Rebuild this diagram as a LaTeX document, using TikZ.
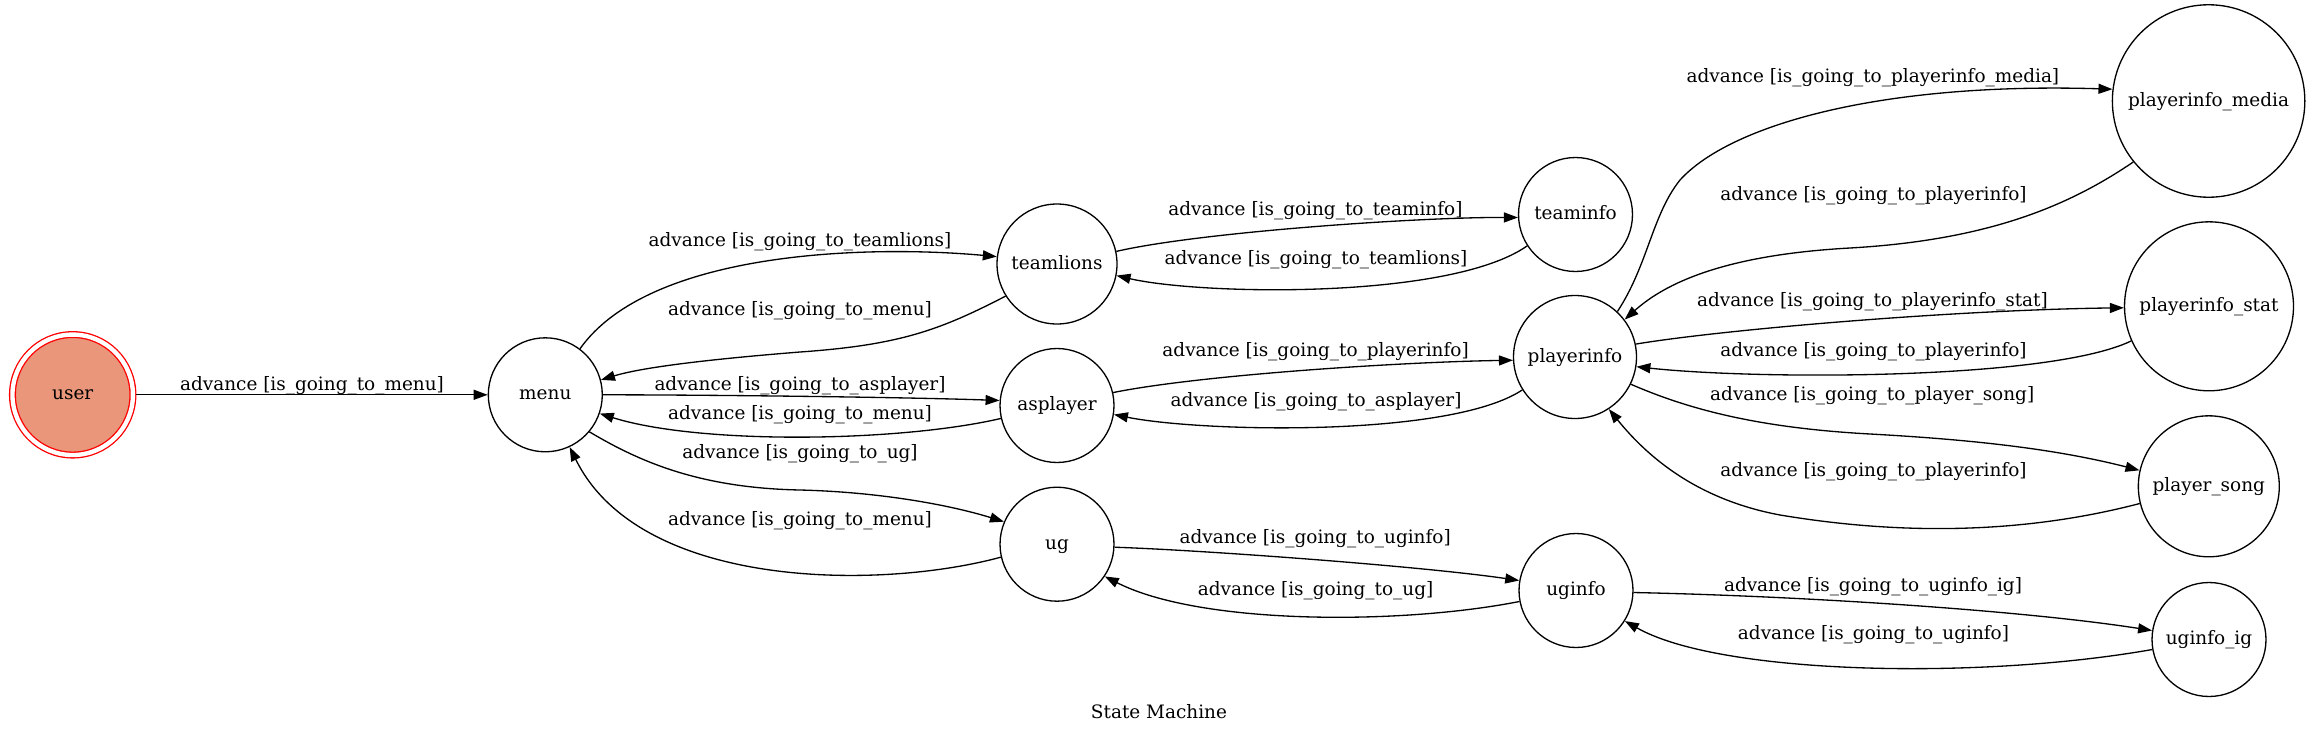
\documentclass[tikz,border=0pt]{standalone}
\usepackage{fontspec}
\setmainfont{DejaVu Serif}
\usetikzlibrary{arrows.meta}
\definecolor{usercol}{RGB}{233,150,122}

\begin{document}
\begin{tikzpicture}[x=0.02cm, y=-0.02cm]

% definitions
\tikzstyle{state} = [circle, draw=black, line width=0.75pt, inner sep=0pt, minimum size=2.28cm, text height=1.1ex, text depth=0pt, font=\fontsize{10.5}{12}\selectfont]

\tikzstyle{userstate} = [state, draw=red, double=white, double distance=0.0875cm, fill=usercol, minimum size=2.41cm, outer sep=0.057cm]

\tikzstyle{edgetext} = [inner sep=0pt, text height=1.1ex, text depth=0pt, font=\fontsize{10.5}{12}\selectfont]

\tikzstyle{arrow} = [-{Triangle[length=0.28cm, width=0.2cm]}, line width=0.75pt]

\useasboundingbox (0,0) rectangle (2319,734);

% the states
\node (user) [userstate] at (72.7,394.8) {user};

\node (menu) [state] at (545.3,394.8) {menu};

\node (teamlions) [state, minimum size=2.4cm] at (1057,264) {teamlions};

\node (asplayer) [state] at (1057,405.5) {asplayer};

\node (ug) [state] at (1057,544.2) {ug};

\node (teaminfo) [state] at (1575.5,214.5) {teaminfo};

\node (playerinfo) [state, minimum size=2.46cm] at (1575,357) {playerinfo};

\node (uginfo) [state] at (1576,590.5) {uginfo};

\node (media) [state, minimum size=3.85cm] at (2208.6,101) {playerinfo\_media};

\node (stat) [state, minimum size=3.38cm] at (2209,306.3) {playerinfo\_stat};

\node (song) [state, minimum size=2.82cm] at (2208.8,486.3) {player\_song};

\node (uginfoig) [state] at (2209,639.5) {uginfo\_ig};

% the transition labels
\node (t1) [edgetext] at (312,385.4) {advance [is\_going\_to\_menu]};
\node (t2) [edgetext] at (800,241) {advance [is\_going\_to\_teamlions]};
\node (t3) [edgetext] at (800,310.5) {advance [is\_going\_to\_menu]};
\node (t4) [edgetext] at (800,385.7) {advance [is\_going\_to\_asplayer]};
\node (t5) [edgetext] at (800,414.3) {advance [is\_going\_to\_menu]};
\node (t6) [edgetext] at (800,453.5) {advance [is\_going\_to\_ug]};
\node (t7) [edgetext] at (800,520.5) {advance [is\_going\_to\_menu]};
\node (t8) [edgetext] at (1315.4,210.2) {advance [is\_going\_to\_teaminfo]};
\node (t9) [edgetext] at (1316,259.2) {advance [is\_going\_to\_teamlions]};
\node (t10) [edgetext] at (1315.6,351) {advance [is\_going\_to\_playerinfo]};
\node (t11) [edgetext] at (1316,401.8) {advance [is\_going\_to\_asplayer]};
\node (t12) [edgetext] at (1315.2,538.2) {advance [is\_going\_to\_uginfo]};
\node (t13) [edgetext] at (1315.6,590.2) {advance [is\_going\_to\_ug]};
\node (t14) [edgetext] at (1872.9,77.7) {advance [is\_going\_to\_playerinfo\_media]};
\node (t15) [edgetext] at (1873.5,195.2) {advance [is\_going\_to\_playerinfo]};
\node (t16) [edgetext] at (1872.4,301.8) {advance [is\_going\_to\_playerinfo\_stat]};
\node (t17) [edgetext] at (1873.5,351.8) {advance [is\_going\_to\_playerinfo]};
\node (t18) [edgetext] at (1872.2,395.2) {advance [is\_going\_to\_player\_song]};
\node (t19) [edgetext] at (1873.5,471.3) {advance [is\_going\_to\_playerinfo]};
\node (t20) [edgetext] at (1873,586) {advance [is\_going\_to\_uginfo\_ig]};
\node (t21) [edgetext] at (1873.5,634.8) {advance [is\_going\_to\_uginfo]};

\node (title) [edgetext] at (1159,713) {State Machine};

% the transitions
\draw [arrow] (user) -- (menu);
\draw [arrow] (menu.53) .. controls (650,250) and (870,245) .. (teamlions.173);
\draw [arrow] (teamlions.212) .. controls (940,330) and (900,345) .. (800,352) .. controls (700,360) and (640,368) .. (menu.15);
\draw [arrow] (menu.0) .. controls (700,394.8) and (900,397) .. (asplayer.175);
\draw [arrow] (asplayer.193) .. controls (900,442) and (700,445) .. (menu.341);
\draw [arrow] (menu.320) .. controls (640,462) and (700,488) .. (800,490) .. controls (880,492) and (950,505) .. (ug.157);
\draw [arrow] (ug.193) .. controls (880,590) and (640,590) .. (menu.295);

\draw [arrow] (teamlions.12) .. controls (1200,232) and (1420,217) .. (teaminfo.183);
\draw [arrow] (teaminfo.213) .. controls (1450,300) and (1200,295) .. (teamlions.349);
\draw [arrow] (asplayer.13) .. controls (1200,375) and (1400,362) .. (playerinfo.183);
\draw [arrow] (playerinfo.212) .. controls (1450,438) and (1200,432) .. (asplayer.351);
\draw [arrow] (ug.357) .. controls (1200,550) and (1420,566) .. (uginfo.170);
\draw [arrow] (uginfo.191) .. controls (1400,625) and (1200,625) .. (ug.326);

\draw [arrow] (playerinfo.47) .. controls (1648,265) and (1652,215) .. (1680,180) .. controls (1730,125) and (1880,82) .. (media.173);
\draw [arrow] (media.219) .. controls (2070,205) and (1990,240) .. (1850,248) .. controls (1760,253) and (1680,270) .. (playerinfo.37);
\draw [arrow] (playerinfo.12) .. controls (1720,330) and (1950,310) .. (stat.181);
\draw [arrow] (stat.204) .. controls (2050,380) and (1760,380) .. (playerinfo.351);
\draw [arrow] (playerinfo.334) .. controls (1690,410) and (1760,428) .. (1870,434) .. controls (1980,440) and (2060,450) .. (song.167);
\draw [arrow] (song.194) .. controls (2000,540) and (1870,530) .. (1780,515) .. controls (1700,500) and (1650,460) .. (playerinfo.303);
\draw [arrow] (uginfo.358) .. controls (1800,596) and (2020,610) .. (uginfoig.171);
\draw [arrow] (uginfoig.190) .. controls (1980,680) and (1720,675) .. (uginfo.328);

\end{tikzpicture}
\end{document}
